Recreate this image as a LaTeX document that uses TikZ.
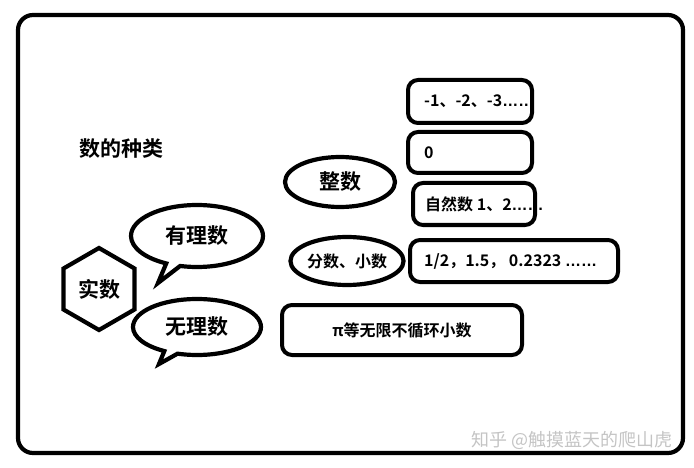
\documentclass[tikz,border=0pt]{standalone}
\usepackage{fontspec}
\setmainfont{Noto Sans CJK SC}[BoldFont={Noto Sans CJK SC Bold}]
\newfontfamily\latinsans{Liberation Sans}
\usepackage{tikz}
\usetikzlibrary{positioning,shapes.geometric,shapes.callouts}
\definecolor{MarkGray}{HTML}{C4C4C4}
\newcommand{\ellip}{{\latinsans\bfseries ……}}

\begin{document}
\begin{tikzpicture}[x=1pt,y=-1pt,
  thick line/.style={line width=4.2pt},
  bubble/.style={thick line,draw,ellipse callout,inner sep=0pt,callout pointer arc=13,font=\bfseries\fontsize{21}{24}\selectfont},
  oval/.style={thick line,draw,ellipse,inner sep=0pt},
  numbox/.style={line width=4pt,draw,rounded corners=10pt,inner sep=0pt},
  boxtext/.style={anchor=west,inner sep=0pt,font=\bfseries\fontsize{16}{19}\selectfont}]
\useasboundingbox (0,0) rectangle (694,468);
\draw[thick line,rounded corners=15pt] (18,15) rectangle (683,453);

\node[font=\bfseries\fontsize{21}{24}\selectfont] (title) at (121,149) {数的种类};

\node[thick line,draw,regular polygon,regular polygon sides=6,shape border rotate=30,
  minimum size=82pt,inner sep=0pt,font=\bfseries\fontsize{21}{24}\selectfont] (real) at (99,289) {实数};
\node[bubble,minimum width=132pt,minimum height=62pt,callout absolute pointer={(158,283)}] (rational) at (197,236) {有理数};
\node[bubble,minimum width=128pt,minimum height=56pt,callout absolute pointer={(159,364)}] (irrational) at (197,327) {无理数};

\node[oval,minimum width=110pt,minimum height=50pt,font=\bfseries\fontsize{21}{24}\selectfont] (integer) at (340,182) {整数};
\node[oval,minimum width=108pt,minimum height=48pt,font=\bfseries\fontsize{16}{19}\selectfont] (fraction) at (347,261) {分数、小数};

\node[numbox,minimum width=124pt,minimum height=43pt] (neg) at (470,101.5) {};
\node[numbox,minimum width=124pt,minimum height=41pt] (zero) at (470,152.5) {};
\node[numbox,minimum width=122pt,minimum height=42pt] (natural) at (474,204) {};
\node[numbox,minimum width=208pt,minimum height=42pt] (decimal) at (514,261) {};
\node[numbox,minimum width=240pt,minimum height=50pt,font=\bfseries\fontsize{16}{19}\selectfont] (pi) at (402,330) {π等无限不循环小数};

\node[boxtext] (negtext) at ([xshift=18pt]neg.west) {-1、-2、-3\ellip};
\node[boxtext] (zerotext) at ([xshift=18pt]zero.west) {0};
\node[boxtext] (naturaltext) at ([xshift=14pt]natural.west) {自然数 1、2\ellip};
\node[boxtext] (decimaltext) at ([xshift=16pt]decimal.west) {1/2，1.5， 0.2323 \ellip};

\node[anchor=east,text=MarkGray,font=\fontsize{18}{20}\selectfont] (mark) at (676,440) {知乎 @触摸蓝天的爬山虎};
\end{tikzpicture}
\end{document}
